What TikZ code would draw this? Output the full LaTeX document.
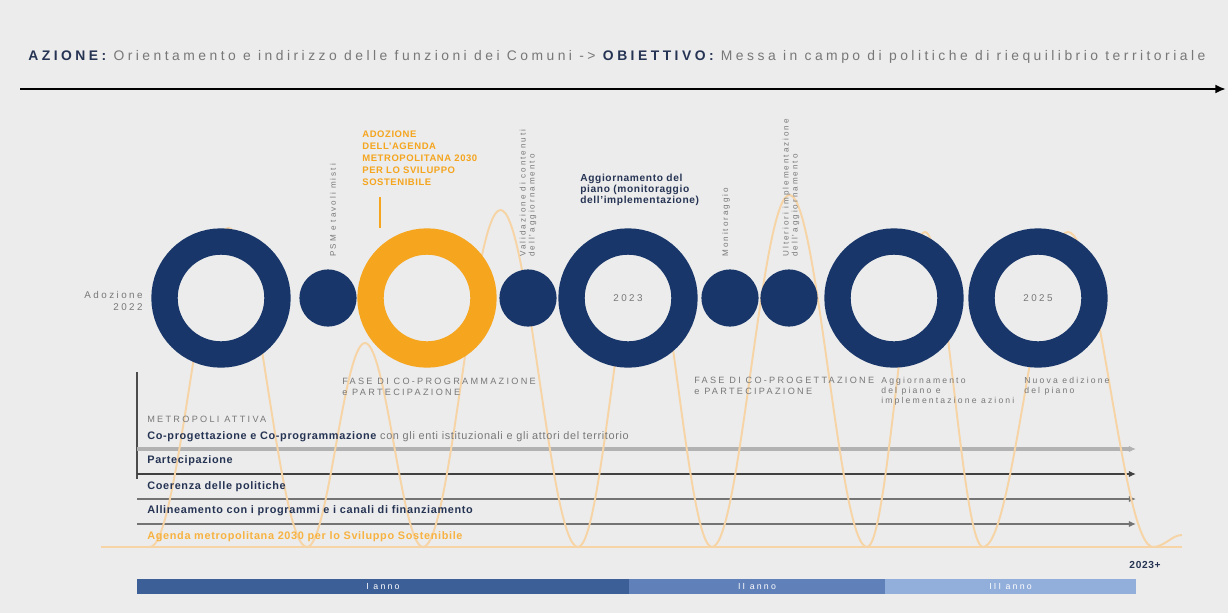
\documentclass[tikz,border=0pt]{standalone}
\usepackage{fontspec}
\setmainfont{Liberation Sans}[LetterSpace=6]
\newfontfamily\trk[LetterSpace=25]{Liberation Sans}
\usetikzlibrary{arrows.meta}
\definecolor{bgc}{RGB}{236,236,236}
\definecolor{navy}{RGB}{24,54,106}
\definecolor{agenda}{RGB}{245,165,30}
\definecolor{wave}{RGB}{247,212,165}
\definecolor{txt}{RGB}{120,120,120}
\definecolor{ink}{RGB}{38,52,84}
\definecolor{bar1}{RGB}{60,95,152}
\definecolor{bar2}{RGB}{95,128,184}
\definecolor{bar3}{RGB}{146,174,218}
\begin{document}
\begin{tikzpicture}[x=0.02cm,y=-0.02cm,every node/.style={inner sep=0pt,text=txt},
  ring/.style={circle,draw=#1,fill=bgc,line width=15pt,minimum size=64.3pt,font=\trk\fontsize{5.6}{6}\selectfont},
  dot/.style={circle,fill=navy,minimum size=32.5pt},
  vlab/.style={rotate=90,anchor=west,align=left,font=\trk\fontsize{4.6}{5.2}\selectfont},
  lab/.style={anchor=north west,align=left,font=\trk\fontsize{5.2}{6}\selectfont},
  bold/.style={anchor=west,font=\bfseries\fontsize{6.2}{7}\selectfont,text=ink},
  track/.style={-{Latex[length=4pt,width=3.6pt]},line width=#1},
  yr/.style={font=\trk\fontsize{5}{6}\selectfont,text=white}]
\fill[bgc](0,0)rectangle(1228,613);
\node[anchor=west,font=\trk\fontsize{7.9}{9}\selectfont](title)at(28,57){\textcolor{ink}{\bfseries AZIONE:} Orientamento e indirizzo delle funzioni dei Comuni -> \textcolor{ink}{\bfseries OBIETTIVO:} Messa in campo di politiche di riequilibrio territoriale};
\coordinate(s0)at(20,89);\coordinate(e0)at(1226,89);
\draw[-{Latex[length=6pt,width=5pt]},line width=1.7pt](s0)--(e0);
\coordinate(bt)at(137,372);\coordinate(bb)at(137,479);
\draw[line width=1.2pt,black!70](bt)--(bb);
\foreach \y/\c/\w [count=\i] in {449/black!30/1.8pt,474/black!75/1pt,499/black!55/1.6pt,524/black!55/1.6pt}{
  \coordinate(l\i)at(137,\y);\coordinate(m\i)at(1136,\y);
  \draw[track=\w,draw=\c](l\i)--(m\i);}
\coordinate(w0)at(101,547);\coordinate(w1)at(1182,547);
\draw[wave,line width=1.2pt](w0)--(w1);
\draw[wave,line width=1.1pt](w0)--(150,547)
  foreach \a/\b/\p in {150/307/228,307/423/343,423/578/210,578/712/232,712/867/195,867/983/232,983/1153/232}{
    cos({\a+(\b-\a)/4},{(547+\p)/2})sin({(\a+\b)/2},\p)cos({\a+3*(\b-\a)/4},{(547+\p)/2})sin(\b,547)}
  cos(1168,541)sin(1182,535);
\node[ring=navy](r1)at(221,298){};
\node[dot](d1)at(328,298){};
\node[ring=agenda](r2)at(427,298){};
\node[dot](d2)at(528,298){};
\node[ring=navy](r3)at(628,298){2023};
\node[dot](d3)at(730,298){};
\node[dot](d4)at(789,298){};
\node[ring=navy](r4)at(894,298){};
\node[ring=navy](r5)at(1038,298){2025};
\node[anchor=east,align=right,font=\trk\fontsize{5.6}{7}\selectfont](adz)at(143,301){Adozione\\2022};
\node[vlab](v1)at(333,257){PSM e tavoli misti};
\node[vlab](v2)at(528,257){Validazione di contenuti\\dell'aggiornamento};
\node[vlab](v3)at(726,257){Monitoraggio};
\node[vlab](v4)at(791,257){Ulteriori implementazione\\dell'aggiornamento};
\node[lab,font=\bfseries\fontsize{5.4}{6.8}\selectfont,text=agenda](ag)at(362,131){ADOZIONE\\DELL'AGENDA\\METROPOLITANA 2030\\PER LO SVILUPPO\\SOSTENIBILE};
\coordinate(agl)at(380,197);
\draw[agenda,line width=0.9pt](agl)--(agl|-r2.north);
\node[lab,font=\bfseries\fontsize{5.8}{6.3}\selectfont,text=ink](upd)at(580,174){Aggiornamento del\\piano (monitoraggio\\dell'implementazione)};
\node[lab](f1)at(342,378){FASE DI CO-PROGRAMMAZIONE\\e PARTECIPAZIONE};
\node[lab](f2)at(694,377){FASE DI CO-PROGETTAZIONE\\e PARTECIPAZIONE};
\node[lab,font=\trk\fontsize{4.9}{5.8}\selectfont](f3)at(881,377){Aggiornamento\\del piano e\\implementazione azioni};
\node[lab,font=\trk\fontsize{4.9}{5.8}\selectfont](f4)at(1024,377){Nuova edizione\\del piano};
\node[lab](ma)at(147,416){METROPOLI ATTIVA};
\node[bold](t1)at(147,437){Co-progettazione e Co-programmazione {\mdseries\textcolor{txt}{con gli enti istituzionali e gli attori del territorio}}};
\node[bold](t2)at(147,461){Partecipazione};
\node[bold](t3)at(147,487){Coerenza delle politiche};
\node[bold](t4)at(147,511){Allineamento con i programmi e i canali di finanziamento};
\node[bold,text=agenda!85](t5)at(147,537){Agenda metropolitana 2030 per lo Sviluppo Sostenibile};
\foreach \a/\b/\c/\t [count=\i] in {137/629/bar1/I anno,629/885/bar2/II anno,885/1136/bar3/III anno}{
  \fill[\c](\a,579)rectangle(\b,594);
  \node[yr](y\i)at({(\a+\b)/2},586.5){\t};}
\node[font=\bfseries\fontsize{5.8}{6}\selectfont,text=ink](yp)at(1145,565){2023+};
\end{tikzpicture}
\end{document}
